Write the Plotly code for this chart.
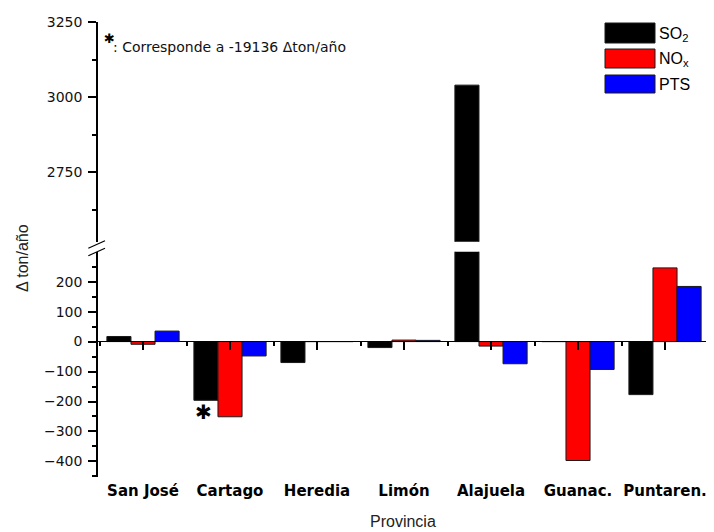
import plotly.graph_objects as go

provincias = ["San José", "Cartago", "Heredia", "Limón", "Alajuela", "Guanac.", "Puntaren."]
so2 = [17, -196, -70, -20, 3040, 0, -177]
nox = [-9, -251, 0, 5, -15, -397, 246]
pts = [35, -48, 0, 4, -74, -93, 184]
series_names = ["SO<sub>2</sub>", "NO<sub>x</sub>", "PTS"]
series_colors = ["#000000", "#ff0000", "#0000ff"]
lower_ticks = [-400, -300, -200, -100, 0, 100, 200]
lower_minor = [-450, -350, -250, -150, -50, 50, 150, 250]
upper_ticks = [2750, 3000, 3250]
upper_minor = [2625, 2875, 3125]

OFF = 8  # page body margin in the browser
W, H = 714 - OFF, 532 - OFF
L, R, T, B = 97, 710, 22, 477   # plot area in reference pixel coordinates
PW, PH = R - L, B - T


def px(p):
    return (p - L) / PW


def py(p):
    return (B - p) / PH


xs = list(range(len(provincias)))
fig = go.Figure()
for vals, name, col in zip([so2, nox, pts], series_names, series_colors):
    for ya in ["y", "y2"]:
        fig.add_trace(go.Bar(x=xs, y=vals, name=name, xaxis="x", yaxis=ya,
                             marker=dict(color=col, line=dict(color="#1a1a1a", width=1)),
                             showlegend=False))
# helper invisible trace so the zero-line axis is drawn
fig.add_trace(go.Scatter(x=[0], y=[0], xaxis="x2", yaxis="y", mode="markers",
                         marker=dict(opacity=0), showlegend=False, hoverinfo="skip"))

xr = [(L - 143) / 87, (R - 143) / 87]
zero_pos = py(341.3)
font = "Arial, Liberation Sans, sans-serif"
tickfont = dict(family="DejaVu Sans, sans-serif", size=14, color="#111")

fig.update_layout(
    width=W, height=H,
    margin=dict(l=L - OFF, r=W - (R - OFF), t=T - OFF, b=H - (B - OFF), autoexpand=False),
    paper_bgcolor="white", plot_bgcolor="white",
    barmode="group", bargap=0.17, bargroupgap=0,
    showlegend=False,
    font=dict(family=font, color="#111"),
    xaxis=dict(range=xr, anchor="y", showline=False, ticks="", showgrid=False,
               zeroline=False, tickmode="array", tickvals=xs, ticktext=provincias,
               automargin=False,
               tickfont=dict(family="DejaVu Sans, sans-serif", size=15, color="#000",
                             weight="bold"),
               ticklabelstandoff=3),
    xaxis2=dict(range=xr, matches="x", overlaying="x", anchor="free", position=zero_pos,
                showline=True, linecolor="#000", linewidth=1, showticklabels=False,
                automargin=False,
                ticks="outside", ticklen=8, tickcolor="#000", tickwidth=1.5,
                tickmode="array", tickvals=xs, showgrid=False, zeroline=False,
                minor=dict(tickmode="array", tickvals=[v - 0.5 for v in xs] + [6.5],
                           ticks="outside", ticklen=4, tickcolor="#000", tickwidth=1.5,
                           showgrid=False)),
    yaxis=dict(domain=[0, py(251.7)], range=[-452, 300], anchor="free", position=0,
               showline=True, linecolor="#000", linewidth=1.5, ticks="outside",
               ticklen=8, tickcolor="#000", tickwidth=1.5, tickmode="array",
               tickvals=lower_ticks, showgrid=False, zeroline=False, automargin=False,
               tickfont=tickfont, ticklabelstandoff=3,
               minor=dict(tickmode="array", tickvals=lower_minor, ticks="outside",
                          ticklen=4, tickcolor="#000", tickwidth=1.5, showgrid=False)),
    yaxis2=dict(domain=[py(241.7), 1], range=[2518, 3250.5], anchor="free", position=0,
                showline=True, linecolor="#000", linewidth=1.5, ticks="outside",
                ticklen=8, tickcolor="#000", tickwidth=1.5, tickmode="array",
                tickvals=upper_ticks, showgrid=False, zeroline=False, automargin=False,
                tickfont=tickfont, ticklabelstandoff=3,
                minor=dict(tickmode="array", tickvals=upper_minor, ticks="outside",
                           ticklen=4, tickcolor="#000", tickwidth=1.5, showgrid=False)),
)

shapes = []
# axis break marks
for (x0, y0, x1, y1) in [(88.3, 248.3, 105, 240.7), (88.3, 255.7, 105, 248.3)]:
    shapes.append(dict(type="line", xref="paper", yref="paper",
                       x0=px(x0), y0=py(y0), x1=px(x1), y1=py(y1),
                       line=dict(color="#000", width=1.2)))
# legend boxes
legend_rows = [(23, 43), (49, 68), (75, 93)]
annotations = []
for (t, b), name, col in zip(legend_rows, series_names, series_colors):
    shapes.append(dict(type="rect", xref="paper", yref="paper",
                       x0=px(605), x1=px(655), y0=py(b), y1=py(t),
                       fillcolor=col, line=dict(color="#1a1a1a", width=1)))
    annotations.append(dict(xref="paper", yref="paper", x=px(657), y=py((t + b) / 2 + 1),
                            xanchor="left", yanchor="middle", showarrow=False,
                            text=name, font=dict(size=16, color="#000")))

# note in the top-left
annotations.append(dict(xref="paper", yref="paper", x=px(102), y=py(39),
                        xanchor="left", yanchor="middle", showarrow=False,
                        text="✱", font=dict(family="DejaVu Sans", size=13, color="#000")))
annotations.append(dict(xref="paper", yref="paper", x=px(111), y=py(47),
                        xanchor="left", yanchor="middle", showarrow=False,
                        text=": Corresponde a -19136 Δton/año",
                        font=dict(family="DejaVu Sans, sans-serif", size=14, color="#111")))
# asterisk under Cartago SO2 bar
annotations.append(dict(xref="x", yref="y", x=1 - 0.30, y=so2[1],
                        xanchor="center", yanchor="top", yshift=2, showarrow=False,
                        text="✱", font=dict(family="DejaVu Sans", size=20, color="#000")))
# axis titles
annotations.append(dict(xref="paper", yref="paper", x=px(23), y=py(258),
                        xanchor="center", yanchor="middle", showarrow=False,
                        textangle=-90, text="Δ ton/año", font=dict(size=16, color="#222")))
annotations.append(dict(xref="paper", yref="paper", x=px(403), y=py(521),
                        xanchor="center", yanchor="middle", showarrow=False,
                        text="Provincia", font=dict(size=16, color="#222")))

fig.update_layout(shapes=shapes, annotations=annotations)
fig.write_html("out.html")
